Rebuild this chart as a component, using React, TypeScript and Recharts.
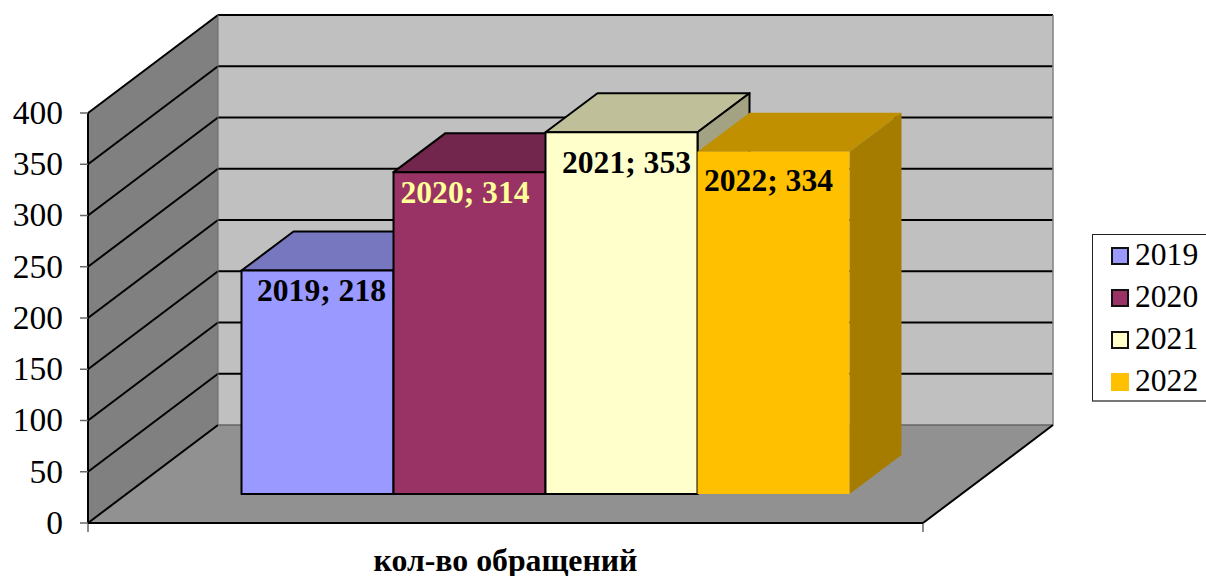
import React from 'react';
import { ComposedChart, Bar, XAxis, YAxis, Legend, LabelList, Customized, usePlotArea } from 'recharts';

const categories = ['кол-во обращений'];
const seriesNames = ['2019', '2020', '2021', '2022'];
const values2019 = [218];
const values2020 = [314];
const values2021 = [353];
const values2022 = [334];
const yTicks = [0, 50, 100, 150, 200, 250, 300, 350, 400];

const rows = categories.map((c, i) => ({
  category: c,
  '2019': values2019[i],
  '2020': values2020[i],
  '2021': values2021[i],
  '2022': values2022[i],
}));

const FONT = '"Liberation Serif", "Times New Roman", serif';
const WALL_DX = 130;
const WALL_DY = 98;
const BAR_DX = 52;
const BAR_DY = 39;
const BAR_SHIFT_X = 39.5;
const BAR_SHIFT_Y = -29;
const Y_MAX = 400;

const fills: Record<string, { face: string; top: string; side: string; stroke: string }> = {
  '2019': { face: '#9999FF', top: '#7777C0', side: '#6F6FB8', stroke: '#000000' },
  '2020': { face: '#993366', top: '#73264D', side: '#6B2347', stroke: '#000000' },
  '2021': { face: '#FFFFCC', top: '#BFBF99', side: '#A3A383', stroke: '#000000' },
  '2022': { face: '#FFC000', top: '#C09000', side: '#A67C00', stroke: 'none' },
};

function Walls() {
  const area = usePlotArea();
  if (!area) return null;
  const { x, y, width, height } = area;
  const left = x;
  const right = x + width;
  const bottom = y + height;
  const top = y;
  const py = (v: number) => bottom - (v / Y_MAX) * height;
  return (
    <g>
      <polygon points={`${left + WALL_DX},${top - WALL_DY} ${right + WALL_DX},${top - WALL_DY} ${right + WALL_DX},${bottom - WALL_DY} ${left + WALL_DX},${bottom - WALL_DY}`} fill="#C0C0C0" />
      <polygon points={`${left},${top} ${left + WALL_DX},${top - WALL_DY} ${left + WALL_DX},${bottom - WALL_DY} ${left},${bottom}`} fill="#808080" />
      <polygon points={`${left},${bottom} ${right},${bottom} ${right + WALL_DX},${bottom - WALL_DY} ${left + WALL_DX},${bottom - WALL_DY}`} fill="#919191" />
      {yTicks.map((t) => (
        <g key={t}>
          <line x1={left} y1={py(t)} x2={left + WALL_DX} y2={py(t) - WALL_DY} stroke="#000" strokeWidth={2} />
          {t > 0 && <line x1={left + WALL_DX} y1={py(t) - WALL_DY} x2={right + WALL_DX} y2={py(t) - WALL_DY} stroke="#000" strokeWidth={2} />}
        </g>
      ))}
      <line x1={left + WALL_DX} y1={bottom - WALL_DY} x2={right + WALL_DX} y2={bottom - WALL_DY} stroke="#666" strokeWidth={1.5} />
      <line x1={left + WALL_DX} y1={top - WALL_DY} x2={left + WALL_DX} y2={bottom - WALL_DY} stroke="#666" strokeWidth={1} />
      <line x1={right + WALL_DX} y1={top - WALL_DY} x2={right + WALL_DX} y2={bottom - WALL_DY} stroke="#808080" strokeWidth={1.5} />
      <line x1={right} y1={bottom} x2={right + WALL_DX} y2={bottom - WALL_DY} stroke="#000" strokeWidth={2} />
      <line x1={left} y1={bottom} x2={left} y2={bottom + 9} stroke="#666" strokeWidth={1.5} />
      <line x1={right} y1={bottom} x2={right} y2={bottom + 9} stroke="#666" strokeWidth={1.5} />
    </g>
  );
}

function Box3D(props: any) {
  const { x, y, width, height, dataKey } = props;
  const c = fills[dataKey];
  const fx = x + BAR_SHIFT_X;
  const fy = y + BAR_SHIFT_Y;
  const sw = c.stroke === 'none' ? 0 : 2;
  return (
    <g stroke={c.stroke} strokeWidth={sw} strokeLinejoin="round">
      <polygon points={`${fx},${fy} ${fx + width},${fy} ${fx + width + BAR_DX},${fy - BAR_DY} ${fx + BAR_DX},${fy - BAR_DY}`} fill={c.top} />
      <polygon points={`${fx + width},${fy} ${fx + width + BAR_DX},${fy - BAR_DY} ${fx + width + BAR_DX},${fy + height - BAR_DY} ${fx + width},${fy + height}`} fill={c.side} />
      <rect x={fx} y={fy} width={width} height={height} fill={c.face} />
    </g>
  );
}

function makeLabel(name: string, dx: number, dy: number, color: string) {
  return (p: any) => (
    <text
      x={p.x + BAR_SHIFT_X + p.width / 2 + dx}
      y={p.y + BAR_SHIFT_Y + dy}
      textAnchor="middle"
      dominantBaseline="central"
      fontFamily={FONT}
      fontWeight="bold"
      fontSize={31.6}
      fill={color}
    >
      {`${name}; ${p.value}`}
    </text>
  );
}

function LegendBox() {
  return (
    <div
      style={{
        width: 130,
        height: 168,
        boxSizing: 'border-box',
        border: '1px solid #222',
        borderBottom: '2px solid #777',
        background: '#fff',
        fontFamily: FONT,
        fontSize: 31.6,
        paddingTop: 0,
      }}
    >
      {seriesNames.map((n) => (
        <div key={n} style={{ height: 42, display: 'flex', alignItems: 'center', color: '#000' }}>
          <span
            style={{
              display: 'inline-block',
              boxSizing: 'border-box',
              width: 18,
              height: 18,
              marginLeft: 18,
              marginRight: 6,
              background: fills[n].face,
              border: fills[n].stroke === 'none' ? 'none' : '2px solid #111',
            }}
          />
          <span style={{ position: 'relative', top: -1 }}>{n}</span>
        </div>
      ))}
    </div>
  );
}

function CategoryTick(props: any) {
  const { x, payload } = props;
  return (
    <text x={x} y={571} textAnchor="middle" fontFamily={FONT} fontWeight="bold" fontSize={31.8} fill="#000">
      {payload.value}
    </text>
  );
}

export default function App() {
  return (
    <div style={{ position: 'absolute', left: 0, top: 0, width: 1206, height: 576, overflow: 'hidden', background: '#fff' }}>
      <ComposedChart
        width={1206}
        height={576}
        data={rows}
        margin={{ top: 113, right: 283 - 114, bottom: 0, left: 0 }}
        barGap={0}
        barSize={152}
      >
        <Customized component={Walls} />
        <XAxis dataKey="category" axisLine={{ stroke: '#000', strokeWidth: 2 }} tickLine={false} tick={<CategoryTick />} height={53} />
        <YAxis
          domain={[0, Y_MAX]}
          ticks={yTicks}
          width={88}
          interval={0}
          axisLine={{ stroke: '#000', strokeWidth: 2 }}
          tickLine={{ stroke: '#666', strokeWidth: 1.5 }}
          tickSize={8}
          tickMargin={17}
          tick={{ fontFamily: FONT, fontSize: 33.5, fill: '#000', dy: -1 }}
        />
        <Legend
          layout="vertical"
          align="right"
          verticalAlign="middle"
          width={114}
          content={<LegendBox />}
          wrapperStyle={{ position: 'absolute', left: 1092, top: 234, right: 'auto', bottom: 'auto', width: 114, height: 168 }}
        />
        <Bar dataKey="2019" isAnimationActive={false} shape={<Box3D />}>
          <LabelList dataKey="2019" content={makeLabel('2019', 4, 20, '#000000')} />
        </Bar>
        <Bar dataKey="2020" isAnimationActive={false} shape={<Box3D />}>
          <LabelList dataKey="2020" content={makeLabel('2020', -4.5, 20, '#FFFF99')} />
        </Bar>
        <Bar dataKey="2021" isAnimationActive={false} shape={<Box3D />}>
          <LabelList dataKey="2021" content={makeLabel('2021', 5, 30, '#000000')} />
        </Bar>
        <Bar dataKey="2022" isAnimationActive={false} shape={<Box3D />}>
          <LabelList dataKey="2022" content={makeLabel('2022', -5, 29, '#000000')} />
        </Bar>
      </ComposedChart>
    </div>
  );
}
